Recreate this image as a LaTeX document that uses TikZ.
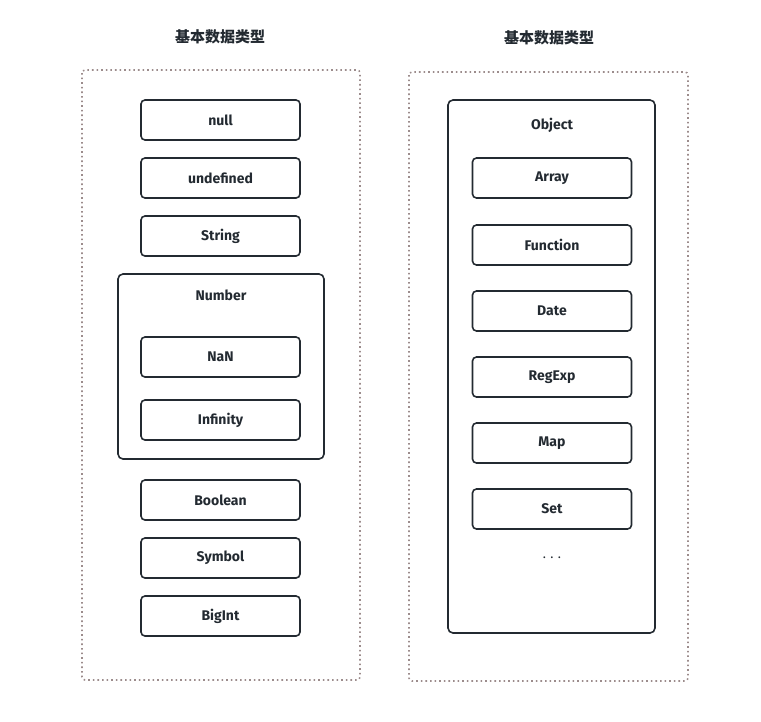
\documentclass[tikz,border=0pt]{standalone}
\usepackage{fontspec}
\setmainfont{Fira Sans}
\newfontfamily\cjk{Noto Sans CJK SC}
\usetikzlibrary{positioning}
\definecolor{Ink}{HTML}{232A31}
\definecolor{Dots}{HTML}{9C8C8C}
\tikzset{
  typebox/.style={draw=Ink,line width=1.6pt,rounded corners=4pt,minimum width=159pt,minimum height=40pt,font=\bfseries\fontsize{14}{16}\selectfont,text=Ink},
  groupbox/.style={draw=Ink,line width=1.6pt,rounded corners=5pt},
  areabox/.style={draw=Dots,line width=1.6pt,dash pattern=on 1.6pt off 3pt,rounded corners=3pt},
  areatitle/.style={font=\cjk\bfseries\fontsize{15}{17}\selectfont,text=Ink}
}
\newcommand{\TypeBox}[4]{%
  \node[typebox] (#1) at (#2,#3) {#4};%
}

\begin{document}
\begin{tikzpicture}[x=1pt,y=-1pt]
\useasboundingbox (0,0) rectangle (761,721);
% left column
\node[areatitle] (tprim) at (220,37) {基本数据类型};
\draw[areabox] (82,70) rectangle (360,680);
\TypeBox{null}{220.5}{120}{null}
\TypeBox{undef}{220.5}{178}{undefined}
\TypeBox{str}{220.5}{236}{String}
\draw[groupbox] (118,274) rectangle (324,459);
\node[font=\bfseries\fontsize{14}{16}\selectfont,text=Ink] (num) at (221,295) {Number};
\TypeBox{nan}{220.5}{357}{NaN}
\TypeBox{inf}{220.5}{420}{Infinity}
\TypeBox{bool}{220.5}{500}{Boolean}
\TypeBox{sym}{220.5}{558}{Symbol}
\TypeBox{big}{220.5}{616}{BigInt}
% right column
\node[areatitle] (tref) at (549,38) {基本数据类型};
\draw[areabox] (409,72) rectangle (688,681);
\draw[groupbox] (448,100) rectangle (655,633);
\node[font=\bfseries\fontsize{14}{16}\selectfont,text=Ink] (obj) at (552,125) {Object};
\foreach \n/\y/\s in {arr/178/Array,fun/245/Function,date/311/Date,reg/377/RegExp,map/443/Map,set/509/Set} {
  \TypeBox{\n}{552}{\y}{\s}
}
\node[font=\fontsize{13}{15}\selectfont,text=Ink] (more) at (552,558) {.\,\,.\,\,.};
\end{tikzpicture}
\end{document}
